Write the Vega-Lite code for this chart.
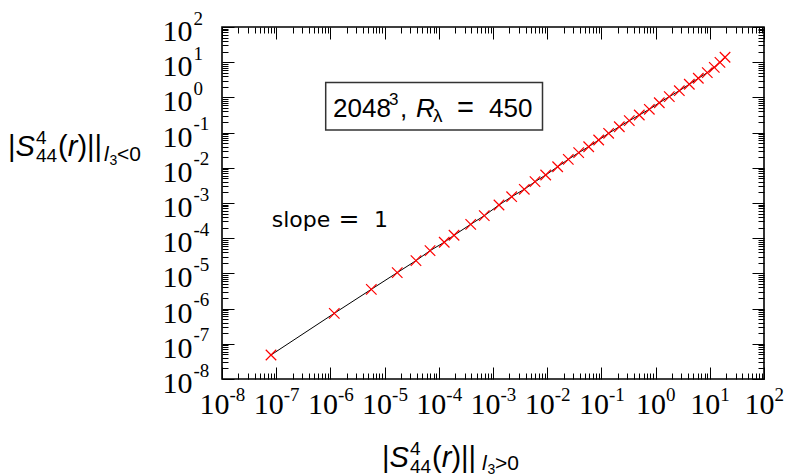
{
  "$schema": "https://vega.github.io/schema/vega-lite/v6.json",
  "width": 542,
  "height": 352,
  "autosize": {"type": "none"},
  "padding": {"left": 222, "top": 27, "right": 23, "bottom": 97},
  "background": "white",
  "config": {
    "view": {"stroke": "black", "strokeWidth": 1.6},
    "axis": {
      "domain": false,
      "grid": false,
      "tickColor": "black",
      "tickWidth": 1,
      "labelFont": "Liberation Serif",
      "labelFontSize": 30,
      "labelColor": "black",
      "labelFlush": false,
      "labelOverlap": false,
      "labelBound": false,
      "title": null
    }
  },
  "data": {
    "values": [
      {"x": 8.02e-8, "y": 4.81e-8},
      {"x": 1.18e-6, "y": 7.35e-7},
      {"x": 5.69e-6, "y": 3.53e-6},
      {"x": 1.71e-5, "y": 1.05e-5},
      {"x": 3.79e-5, "y": 2.30e-5},
      {"x": 6.89e-5, "y": 4.42e-5},
      {"x": 1.26e-4, "y": 7.66e-5},
      {"x": 1.91e-4, "y": 1.21e-4},
      {"x": 3.88e-4, "y": 2.48e-4},
      {"x": 6.90e-4, "y": 4.36e-4},
      {"x": 1.29e-3, "y": 8.77e-4},
      {"x": 2.21e-3, "y": 1.51e-3},
      {"x": 3.78e-3, "y": 2.45e-3},
      {"x": 5.96e-3, "y": 4.03e-3},
      {"x": 9.38e-3, "y": 6.24e-3},
      {"x": 1.56e-2, "y": 1.07e-2},
      {"x": 2.45e-2, "y": 1.74e-2},
      {"x": 3.81e-2, "y": 2.69e-2},
      {"x": 5.83e-2, "y": 3.97e-2},
      {"x": 8.91e-2, "y": 6.17e-2},
      {"x": 0.136, "y": 0.0955},
      {"x": 0.214, "y": 0.147},
      {"x": 0.327, "y": 0.218},
      {"x": 0.500, "y": 0.316},
      {"x": 0.766, "y": 0.459},
      {"x": 1.17, "y": 0.706},
      {"x": 1.79, "y": 1.05},
      {"x": 2.74, "y": 1.55},
      {"x": 4.19, "y": 2.36},
      {"x": 6.14, "y": 3.49},
      {"x": 8.99, "y": 5.04},
      {"x": 12.1, "y": 7.16},
      {"x": 15.4, "y": 9.93},
      {"x": 19.1, "y": 13.8}
    ]
  },
  "resolve": {"axis": {"x": "independent", "y": "independent"}},
  "layer": [
    {
      "mark": {"type": "line", "color": "black", "strokeWidth": 1},
      "encoding": {
        "x": {
          "field": "x", "type": "quantitative",
          "scale": {"type": "log", "domain": [1e-8, 100], "nice": false},
          "axis": {
            "orient": "bottom", "labels": false, "ticks": true,
            "values": [1e-8,2e-8,3e-8,4e-8,5e-8,6e-8,7e-8,8e-8,9e-8,1e-7,2e-7,3e-7,4e-7,5e-7,6e-7,7e-7,8e-7,9e-7,1e-6,2e-6,3e-6,4e-6,5e-6,6e-6,7e-6,8e-6,9e-6,1e-5,2e-5,3e-5,4e-5,5e-5,6e-5,7e-5,8e-5,9e-5,1e-4,2e-4,3e-4,4e-4,5e-4,6e-4,7e-4,8e-4,9e-4,1e-3,2e-3,3e-3,4e-3,5e-3,6e-3,7e-3,8e-3,9e-3,0.01,0.02,0.03,0.04,0.05,0.06,0.07,0.08,0.09,0.1,0.2,0.3,0.4,0.5,0.6,0.7,0.8,0.9,1,2,3,4,5,6,7,8,9,10,20,30,40,50,60,70,80,90,100],
            "tickSize": {"condition": {"test": "abs(log(datum.value)/LN10-round(log(datum.value)/LN10))<0.001", "value": -12}, "value": -6}
          }
        },
        "y": {
          "field": "y", "type": "quantitative",
          "scale": {"type": "log", "domain": [1e-8, 100], "nice": false},
          "axis": {
            "orient": "left", "labels": false, "ticks": true,
            "values": [1e-8,2e-8,3e-8,4e-8,5e-8,6e-8,7e-8,8e-8,9e-8,1e-7,2e-7,3e-7,4e-7,5e-7,6e-7,7e-7,8e-7,9e-7,1e-6,2e-6,3e-6,4e-6,5e-6,6e-6,7e-6,8e-6,9e-6,1e-5,2e-5,3e-5,4e-5,5e-5,6e-5,7e-5,8e-5,9e-5,1e-4,2e-4,3e-4,4e-4,5e-4,6e-4,7e-4,8e-4,9e-4,1e-3,2e-3,3e-3,4e-3,5e-3,6e-3,7e-3,8e-3,9e-3,0.01,0.02,0.03,0.04,0.05,0.06,0.07,0.08,0.09,0.1,0.2,0.3,0.4,0.5,0.6,0.7,0.8,0.9,1,2,3,4,5,6,7,8,9,10,20,30,40,50,60,70,80,90,100],
            "tickSize": {"condition": {"test": "abs(log(datum.value)/LN10-round(log(datum.value)/LN10))<0.001", "value": -12}, "value": -6}
          }
        }
      }
    },
    {
      "mark": {"type": "line", "opacity": 0},
      "encoding": {
        "x": {
          "field": "x", "type": "quantitative",
          "axis": {
            "orient": "top", "labels": false, "ticks": true,
            "values": [1e-8,2e-8,3e-8,4e-8,5e-8,6e-8,7e-8,8e-8,9e-8,1e-7,2e-7,3e-7,4e-7,5e-7,6e-7,7e-7,8e-7,9e-7,1e-6,2e-6,3e-6,4e-6,5e-6,6e-6,7e-6,8e-6,9e-6,1e-5,2e-5,3e-5,4e-5,5e-5,6e-5,7e-5,8e-5,9e-5,1e-4,2e-4,3e-4,4e-4,5e-4,6e-4,7e-4,8e-4,9e-4,1e-3,2e-3,3e-3,4e-3,5e-3,6e-3,7e-3,8e-3,9e-3,0.01,0.02,0.03,0.04,0.05,0.06,0.07,0.08,0.09,0.1,0.2,0.3,0.4,0.5,0.6,0.7,0.8,0.9,1,2,3,4,5,6,7,8,9,10,20,30,40,50,60,70,80,90,100],
            "tickSize": {"condition": {"test": "abs(log(datum.value)/LN10-round(log(datum.value)/LN10))<0.001", "value": -12}, "value": -6}
          }
        },
        "y": {
          "field": "y", "type": "quantitative",
          "axis": {
            "orient": "right", "labels": false, "ticks": true,
            "values": [1e-8,2e-8,3e-8,4e-8,5e-8,6e-8,7e-8,8e-8,9e-8,1e-7,2e-7,3e-7,4e-7,5e-7,6e-7,7e-7,8e-7,9e-7,1e-6,2e-6,3e-6,4e-6,5e-6,6e-6,7e-6,8e-6,9e-6,1e-5,2e-5,3e-5,4e-5,5e-5,6e-5,7e-5,8e-5,9e-5,1e-4,2e-4,3e-4,4e-4,5e-4,6e-4,7e-4,8e-4,9e-4,1e-3,2e-3,3e-3,4e-3,5e-3,6e-3,7e-3,8e-3,9e-3,0.01,0.02,0.03,0.04,0.05,0.06,0.07,0.08,0.09,0.1,0.2,0.3,0.4,0.5,0.6,0.7,0.8,0.9,1,2,3,4,5,6,7,8,9,10,20,30,40,50,60,70,80,90,100],
            "tickSize": {"condition": {"test": "abs(log(datum.value)/LN10-round(log(datum.value)/LN10))<0.001", "value": -12}, "value": -6}
          }
        }
      }
    },
    {
      "mark": {"type": "line", "opacity": 0},
      "encoding": {
        "x": {
          "field": "x", "type": "quantitative",
          "axis": {
            "orient": "bottom", "ticks": false,
            "values": [1e-8,1e-7,1e-6,1e-5,1e-4,1e-3,0.01,0.1,1,10,100],
            "labelExpr": "'10'",
            "labelAlign": "center", "labelBaseline": "top", "labelPadding": 10,
            "labelOffset": {"condition": {"test": "datum.value < 0.5", "value": -8}, "value": -5}
          }
        },
        "y": {
          "field": "y", "type": "quantitative",
          "axis": {
            "orient": "left", "ticks": false,
            "values": [1e-8,1e-7,1e-6,1e-5,1e-4,1e-3,0.01,0.1,1,10,100],
            "labelExpr": "'10'",
            "labelAlign": "right", "labelBaseline": "alphabetic", "labelPadding": 30, "labelOffset": 13.5
          }
        }
      }
    },
    {
      "mark": {"type": "line", "opacity": 0},
      "encoding": {
        "x": {
          "field": "x", "type": "quantitative",
          "axis": {
            "orient": "bottom", "ticks": false,
            "values": [1e-8,1e-7,1e-6,1e-5,1e-4,1e-3,0.01,0.1,1,10,100],
            "labelExpr": "'' + round(log(datum.value)/LN10)",
            "labelFontSize": 19,
            "labelAlign": "left", "labelBaseline": "alphabetic", "labelPadding": 21,
            "labelOffset": {"condition": {"test": "datum.value < 0.5", "value": 7}, "value": 10}
          }
        },
        "y": {
          "field": "y", "type": "quantitative",
          "axis": {
            "orient": "left", "ticks": false,
            "values": [1e-8,1e-7,1e-6,1e-5,1e-4,1e-3,0.01,0.1,1,10,100],
            "labelExpr": "'' + round(log(datum.value)/LN10)",
            "labelFontSize": 19,
            "labelAlign": "left", "labelBaseline": "alphabetic", "labelPadding": 29, "labelOffset": -3
          }
        }
      }
    },
    {
      "mark": {"type": "point", "shape": "M-1,-1L1,1M-1,1L1,-1", "size": 110, "filled": false, "stroke": "#ff0000", "strokeWidth": 1.2, "opacity": 1},
      "encoding": {
        "x": {"field": "x", "type": "quantitative", "axis": null},
        "y": {"field": "y", "type": "quantitative", "axis": null}
      }
    },
    {
      "data": {"values": [{}]},
      "mark": {"type": "rect", "fill": "white", "stroke": "#333333", "strokeWidth": 1.5},
      "encoding": {
        "x": {"datum": 8.19e-7, "type": "quantitative", "axis": null},
        "x2": {"datum": 8.19e-3},
        "y": {"datum": 2.65, "type": "quantitative", "axis": null},
        "y2": {"datum": 0.1186}
      }
    },
    {"data": {"values": [{}]}, "mark": {"type": "text", "text": "2048", "font": "Liberation Sans", "fontSize": 26, "align": "left", "baseline": "alphabetic", "dx": -51.6, "dy": 19.6, "color": "black"}, "encoding": {"x": {"datum": 1e-5, "type": "quantitative", "axis": null}, "y": {"datum": 1, "type": "quantitative", "axis": null}}},
    {"data": {"values": [{}]}, "mark": {"type": "text", "text": "3", "font": "Liberation Sans", "fontSize": 17, "align": "left", "baseline": "alphabetic", "dx": 4.4, "dy": 7.6, "color": "black"}, "encoding": {"x": {"datum": 1e-5, "type": "quantitative", "axis": null}, "y": {"datum": 1, "type": "quantitative", "axis": null}}},
    {"data": {"values": [{}]}, "mark": {"type": "text", "text": ",", "font": "Liberation Sans", "fontSize": 26, "align": "left", "baseline": "alphabetic", "dx": 15.4, "dy": 19.6, "color": "black"}, "encoding": {"x": {"datum": 1e-5, "type": "quantitative", "axis": null}, "y": {"datum": 1, "type": "quantitative", "axis": null}}},
    {"data": {"values": [{}]}, "mark": {"type": "text", "text": "R", "font": "Liberation Sans", "fontStyle": "italic", "fontSize": 26, "align": "left", "baseline": "alphabetic", "dx": 31.4, "dy": 19.6, "color": "black"}, "encoding": {"x": {"datum": 1e-5, "type": "quantitative", "axis": null}, "y": {"datum": 1, "type": "quantitative", "axis": null}}},
    {"data": {"values": [{}]}, "mark": {"type": "text", "text": "λ", "font": "Liberation Sans", "fontSize": 19, "align": "left", "baseline": "alphabetic", "dx": 48.4, "dy": 25, "color": "black"}, "encoding": {"x": {"datum": 1e-5, "type": "quantitative", "axis": null}, "y": {"datum": 1, "type": "quantitative", "axis": null}}},
    {"data": {"values": [{}]}, "mark": {"type": "text", "text": "=", "font": "Liberation Sans", "fontSize": 29, "align": "left", "baseline": "alphabetic", "dx": 72.4, "dy": 19.6, "color": "black"}, "encoding": {"x": {"datum": 1e-5, "type": "quantitative", "axis": null}, "y": {"datum": 1, "type": "quantitative", "axis": null}}},
    {"data": {"values": [{}]}, "mark": {"type": "text", "text": "450", "font": "Liberation Sans", "fontSize": 26, "align": "left", "baseline": "alphabetic", "dx": 104.4, "dy": 19.6, "color": "black"}, "encoding": {"x": {"datum": 1e-5, "type": "quantitative", "axis": null}, "y": {"datum": 1, "type": "quantitative", "axis": null}}},
    {"data": {"values": [{}]}, "mark": {"type": "text", "text": "slope", "font": "DejaVu Sans", "fontSize": 22, "align": "left", "baseline": "alphabetic", "dx": -4.5, "dy": -11.5, "color": "black"}, "encoding": {"x": {"datum": 1e-7, "type": "quantitative", "axis": null}, "y": {"datum": 1e-4, "type": "quantitative", "axis": null}}},
    {"data": {"values": [{}]}, "mark": {"type": "text", "text": "=", "font": "DejaVu Sans", "fontSize": 25, "align": "left", "baseline": "alphabetic", "dx": 62.3, "dy": -11.5, "color": "black"}, "encoding": {"x": {"datum": 1e-7, "type": "quantitative", "axis": null}, "y": {"datum": 1e-4, "type": "quantitative", "axis": null}}},
    {"data": {"values": [{}]}, "mark": {"type": "text", "text": "1", "font": "DejaVu Sans", "fontSize": 22, "align": "left", "baseline": "alphabetic", "dx": 97.8, "dy": -11.5, "color": "black"}, "encoding": {"x": {"datum": 1e-7, "type": "quantitative", "axis": null}, "y": {"datum": 1e-4, "type": "quantitative", "axis": null}}},
    {"data": {"values": [{}]}, "mark": {"type": "text", "text": "|", "font": "Liberation Sans", "fontSize": 29, "align": "left", "baseline": "alphabetic", "dx": -214, "dy": 23.4, "color": "black"}, "encoding": {"x": {"datum": 1e-8, "type": "quantitative", "axis": null}, "y": {"datum": 0.1, "type": "quantitative", "axis": null}}},
    {"data": {"values": [{}]}, "mark": {"type": "text", "text": "S", "font": "Liberation Sans", "fontStyle": "italic", "fontSize": 29, "align": "left", "baseline": "alphabetic", "dx": -206.5, "dy": 23.4, "color": "black"}, "encoding": {"x": {"datum": 1e-8, "type": "quantitative", "axis": null}, "y": {"datum": 0.1, "type": "quantitative", "axis": null}}},
    {"data": {"values": [{}]}, "mark": {"type": "text", "text": "4", "font": "Liberation Sans", "fontSize": 19, "align": "left", "baseline": "alphabetic", "dx": -186, "dy": 11.4, "color": "black"}, "encoding": {"x": {"datum": 1e-8, "type": "quantitative", "axis": null}, "y": {"datum": 0.1, "type": "quantitative", "axis": null}}},
    {"data": {"values": [{}]}, "mark": {"type": "text", "text": "44", "font": "Liberation Sans", "fontSize": 19, "align": "left", "baseline": "alphabetic", "dx": -186, "dy": 29.4, "color": "black"}, "encoding": {"x": {"datum": 1e-8, "type": "quantitative", "axis": null}, "y": {"datum": 0.1, "type": "quantitative", "axis": null}}},
    {"data": {"values": [{}]}, "mark": {"type": "text", "text": "(", "font": "Liberation Sans", "fontSize": 29, "align": "left", "baseline": "alphabetic", "dx": -164, "dy": 23.4, "color": "black"}, "encoding": {"x": {"datum": 1e-8, "type": "quantitative", "axis": null}, "y": {"datum": 0.1, "type": "quantitative", "axis": null}}},
    {"data": {"values": [{}]}, "mark": {"type": "text", "text": "r", "font": "Liberation Sans", "fontStyle": "italic", "fontSize": 29, "align": "left", "baseline": "alphabetic", "dx": -154.3, "dy": 23.4, "color": "black"}, "encoding": {"x": {"datum": 1e-8, "type": "quantitative", "axis": null}, "y": {"datum": 0.1, "type": "quantitative", "axis": null}}},
    {"data": {"values": [{}]}, "mark": {"type": "text", "text": ")||", "font": "Liberation Sans", "fontSize": 29, "align": "left", "baseline": "alphabetic", "dx": -144.6, "dy": 23.4, "color": "black"}, "encoding": {"x": {"datum": 1e-8, "type": "quantitative", "axis": null}, "y": {"datum": 0.1, "type": "quantitative", "axis": null}}},
    {"data": {"values": [{}]}, "mark": {"type": "text", "text": "l", "font": "Liberation Sans", "fontStyle": "italic", "fontSize": 21, "align": "left", "baseline": "alphabetic", "dx": -118, "dy": 28.4, "color": "black"}, "encoding": {"x": {"datum": 1e-8, "type": "quantitative", "axis": null}, "y": {"datum": 0.1, "type": "quantitative", "axis": null}}},
    {"data": {"values": [{}]}, "mark": {"type": "text", "text": "3", "font": "Liberation Sans", "fontSize": 14, "align": "left", "baseline": "alphabetic", "dx": -112.5, "dy": 32.4, "color": "black"}, "encoding": {"x": {"datum": 1e-8, "type": "quantitative", "axis": null}, "y": {"datum": 0.1, "type": "quantitative", "axis": null}}},
    {"data": {"values": [{}]}, "mark": {"type": "text", "text": "<0", "font": "Liberation Sans", "fontSize": 21, "align": "left", "baseline": "alphabetic", "dx": -105, "dy": 28.4, "color": "black"}, "encoding": {"x": {"datum": 1e-8, "type": "quantitative", "axis": null}, "y": {"datum": 0.1, "type": "quantitative", "axis": null}}},
    {"data": {"values": [{}]}, "mark": {"type": "text", "text": "|", "font": "Liberation Sans", "fontSize": 29, "align": "left", "baseline": "alphabetic", "dx": 160, "dy": 88, "color": "black"}, "encoding": {"x": {"datum": 1e-8, "type": "quantitative", "axis": null}, "y": {"datum": 1e-8, "type": "quantitative", "axis": null}}},
    {"data": {"values": [{}]}, "mark": {"type": "text", "text": "S", "font": "Liberation Sans", "fontStyle": "italic", "fontSize": 29, "align": "left", "baseline": "alphabetic", "dx": 167.5, "dy": 88, "color": "black"}, "encoding": {"x": {"datum": 1e-8, "type": "quantitative", "axis": null}, "y": {"datum": 1e-8, "type": "quantitative", "axis": null}}},
    {"data": {"values": [{}]}, "mark": {"type": "text", "text": "4", "font": "Liberation Sans", "fontSize": 19, "align": "left", "baseline": "alphabetic", "dx": 188, "dy": 76, "color": "black"}, "encoding": {"x": {"datum": 1e-8, "type": "quantitative", "axis": null}, "y": {"datum": 1e-8, "type": "quantitative", "axis": null}}},
    {"data": {"values": [{}]}, "mark": {"type": "text", "text": "44", "font": "Liberation Sans", "fontSize": 19, "align": "left", "baseline": "alphabetic", "dx": 188, "dy": 94, "color": "black"}, "encoding": {"x": {"datum": 1e-8, "type": "quantitative", "axis": null}, "y": {"datum": 1e-8, "type": "quantitative", "axis": null}}},
    {"data": {"values": [{}]}, "mark": {"type": "text", "text": "(", "font": "Liberation Sans", "fontSize": 29, "align": "left", "baseline": "alphabetic", "dx": 210, "dy": 88, "color": "black"}, "encoding": {"x": {"datum": 1e-8, "type": "quantitative", "axis": null}, "y": {"datum": 1e-8, "type": "quantitative", "axis": null}}},
    {"data": {"values": [{}]}, "mark": {"type": "text", "text": "r", "font": "Liberation Sans", "fontStyle": "italic", "fontSize": 29, "align": "left", "baseline": "alphabetic", "dx": 219.7, "dy": 88, "color": "black"}, "encoding": {"x": {"datum": 1e-8, "type": "quantitative", "axis": null}, "y": {"datum": 1e-8, "type": "quantitative", "axis": null}}},
    {"data": {"values": [{}]}, "mark": {"type": "text", "text": ")||", "font": "Liberation Sans", "fontSize": 29, "align": "left", "baseline": "alphabetic", "dx": 229.4, "dy": 88, "color": "black"}, "encoding": {"x": {"datum": 1e-8, "type": "quantitative", "axis": null}, "y": {"datum": 1e-8, "type": "quantitative", "axis": null}}},
    {"data": {"values": [{}]}, "mark": {"type": "text", "text": "l", "font": "Liberation Sans", "fontStyle": "italic", "fontSize": 21, "align": "left", "baseline": "alphabetic", "dx": 260, "dy": 91, "color": "black"}, "encoding": {"x": {"datum": 1e-8, "type": "quantitative", "axis": null}, "y": {"datum": 1e-8, "type": "quantitative", "axis": null}}},
    {"data": {"values": [{}]}, "mark": {"type": "text", "text": "3", "font": "Liberation Sans", "fontSize": 14, "align": "left", "baseline": "alphabetic", "dx": 265.5, "dy": 95, "color": "black"}, "encoding": {"x": {"datum": 1e-8, "type": "quantitative", "axis": null}, "y": {"datum": 1e-8, "type": "quantitative", "axis": null}}},
    {"data": {"values": [{}]}, "mark": {"type": "text", "text": ">0", "font": "Liberation Sans", "fontSize": 21, "align": "left", "baseline": "alphabetic", "dx": 273, "dy": 91, "color": "black"}, "encoding": {"x": {"datum": 1e-8, "type": "quantitative", "axis": null}, "y": {"datum": 1e-8, "type": "quantitative", "axis": null}}}
  ]
}
